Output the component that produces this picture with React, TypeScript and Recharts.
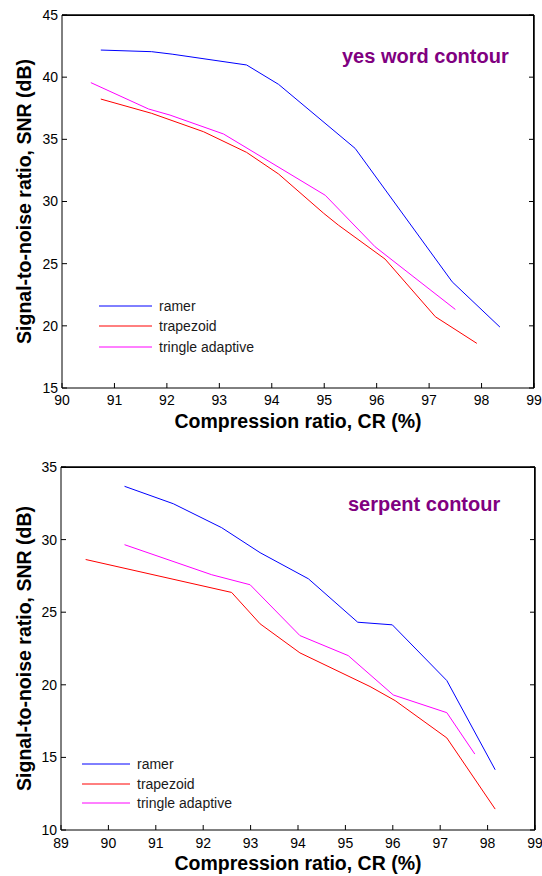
import React from 'react';
import { LineChart, Line, XAxis, YAxis, Legend, ReferenceLine } from 'recharts';

// yes word contour
const topRamerCR = [90.74, 91.71, 92.1, 93.52, 94.13, 95.59, 97.44, 98.35];
const topRamerSNR = [42.18, 42.05, 41.85, 40.98, 39.42, 34.27, 23.54, 19.9];
const topTrapCR = [90.74, 91.71, 92.7, 93.52, 94.13, 94.99, 95.27, 96.16, 97.12, 97.91];
const topTrapSNR = [38.24, 37.09, 35.61, 33.95, 32.21, 29.05, 28.1, 25.37, 20.73, 18.59];
const topTriCR = [90.55, 91.65, 92.06, 93.08, 95.02, 95.97, 97.5];
const topTriSNR = [39.56, 37.44, 36.95, 35.43, 30.5, 26.36, 21.32];

// serpent contour
const botRamerCR = [90.34, 91.37, 92.39, 93.2, 94.22, 95.26, 95.99, 97.14, 98.16];
const botRamerSNR = [33.67, 32.47, 30.82, 29.1, 27.3, 24.31, 24.13, 20.29, 14.15];
const botTrapCR = [89.52, 92.6, 93.2, 94.04, 95.52, 96.05, 97.14, 98.16];
const botTrapSNR = [28.63, 26.36, 24.2, 22.2, 19.88, 18.91, 16.34, 11.44];
const botTriCR = [90.34, 92.18, 92.99, 94.04, 95.06, 96.01, 97.14, 97.73];
const botTriSNR = [29.65, 27.58, 26.89, 23.39, 22.01, 19.3, 18.08, 15.23];

const topXTicks = [90, 91, 92, 93, 94, 95, 96, 97, 98, 99];
const topYTicks = [15, 20, 25, 30, 35, 40, 45];
const botXTicks = [89, 90, 91, 92, 93, 94, 95, 96, 97, 98, 99];
const botYTicks = [10, 15, 20, 25, 30, 35];

const seriesNames = ['ramer', 'trapezoid', 'tringle adaptive'];
const seriesColors = ['#0000ff', '#ff0000', '#ff00ff'];

const font = '"Liberation Sans", Arial, Helvetica, sans-serif';

const zip = (xs: number[], ys: number[]) => xs.map((cr, i) => ({ cr, snr: ys[i] }));

const makeLegend = (lineLen: number, rowH: number) => (props: any) => (
  <div style={{ fontFamily: font, fontSize: 14, color: '#1a1a1a' }}>
    {(props.payload || []).map((p: any) => (
      <div key={p.value} style={{ display: 'flex', alignItems: 'center', height: rowH, whiteSpace: 'nowrap' }}>
        <svg width={lineLen} height={4} style={{ display: 'block' }}>
          <line x1={0} y1={2} x2={lineLen} y2={2} stroke={p.color} strokeWidth={1} />
        </svg>
        <span style={{ marginLeft: 7 }}>{p.value}</span>
      </div>
    ))}
  </div>
);

interface PanelProps {
  title: string;
  titleLeft: number;
  titleTop: number;
  height: number;
  topSpace: number;
  rightSpace: number;
  yAxisWidth: number;
  xAxisHeight: number;
  xTickMargin: number;
  xLabelOffset: number;
  xDomain: [number, number];
  xTicks: number[];
  yDomain: [number, number];
  yTicks: number[];
  data: { cr: number; snr: number }[][];
  legendLeft: number;
  legendTop: number;
  legendLine: number;
  legendRow: number;
}

const tickStyle = { fontFamily: font, fontSize: 14, fill: '#000' };
const blank = () => '';

const Panel: React.FC<PanelProps> = (p) => (
  <div style={{ position: 'relative', width: 542, height: p.height }}>
    <LineChart width={542} height={p.height} margin={{ top: 0, right: 0, left: 0, bottom: 0 }}>
      {/* box top and right edges */}
      <ReferenceLine y={p.yDomain[1]} stroke="#000" strokeWidth={1} />
      <ReferenceLine x={p.xDomain[1]} stroke="#000" strokeWidth={1} />
      <XAxis
        dataKey="cr"
        type="number"
        domain={p.xDomain}
        ticks={p.xTicks}
        allowDataOverflow
        height={p.xAxisHeight}
        tickSize={-5}
        tickMargin={p.xTickMargin}
        stroke="#000"
        tick={tickStyle}
        interval={0}
        label={{
          value: 'Compression ratio, CR (%)',
          position: 'insideBottom',
          offset: p.xLabelOffset,
          style: { fontFamily: font, fontSize: 19.5, fontWeight: 'bold', fill: '#000' },
        }}
      />
      <XAxis
        xAxisId="top"
        orientation="top"
        type="number"
        domain={p.xDomain}
        ticks={p.xTicks}
        allowDataOverflow
        height={p.topSpace}
        tickSize={-5}
        tickFormatter={blank}
        stroke="#000"
        interval={0}
      />
      <YAxis
        type="number"
        domain={p.yDomain}
        ticks={p.yTicks}
        allowDataOverflow
        width={p.yAxisWidth}
        tickSize={-5}
        tickMargin={9}
        stroke="#000"
        tick={tickStyle}
        interval={0}
        label={{
          value: 'Signal-to-noise ratio, SNR (dB)',
          angle: -90,
          position: 'insideLeft',
          offset: 24,
          style: { fontFamily: font, fontSize: 19.5, fontWeight: 'bold', fill: '#000', textAnchor: 'middle' },
        }}
      />
      <YAxis
        yAxisId="right"
        orientation="right"
        type="number"
        domain={p.yDomain}
        ticks={p.yTicks}
        allowDataOverflow
        width={p.rightSpace}
        tickSize={-5}
        tickFormatter={blank}
        stroke="#000"
        interval={0}
      />
      <Legend
        layout="vertical"
        align="center"
        verticalAlign="middle"
        wrapperStyle={{ left: p.legendLeft, top: p.legendTop, width: 'auto', height: 'auto' }}
        content={makeLegend(p.legendLine, p.legendRow)}
      />
      {p.data.map((d, i) => (
        <Line
          key={seriesNames[i]}
          data={d}
          dataKey="snr"
          name={seriesNames[i]}
          type="linear"
          stroke={seriesColors[i]}
          strokeWidth={1}
          dot={false}
          activeDot={false}
          isAnimationActive={false}
        />
      ))}
    </LineChart>
    {/* frame over the plot area so the top and right edges of the box always show */}
    <div
      style={{
        position: 'absolute',
        left: p.yAxisWidth,
        top: p.topSpace,
        width: 542 - p.yAxisWidth - p.rightSpace,
        height: p.height - p.topSpace - p.xAxisHeight,
        borderTop: '1px solid #000',
        borderRight: '1px solid #000',
        boxSizing: 'border-box',
        pointerEvents: 'none',
      }}
    />
    <div
      style={{
        position: 'absolute',
        left: p.titleLeft,
        top: p.titleTop,
        fontFamily: font,
        fontSize: 20,
        lineHeight: '20px',
        fontWeight: 'bold',
        color: '#800080',
        whiteSpace: 'nowrap',
      }}
    >
      {p.title}
    </div>
  </div>
);

export default function App() {
  return (
    <div style={{ position: 'absolute', left: 0, top: 0, width: 542, height: 876, background: '#fff' }}>
      <Panel
        title="yes word contour"
        titleLeft={342}
        titleTop={46}
        height={440}
        topSpace={15}
        rightSpace={8}
        yAxisWidth={62}
        xAxisHeight={52}
        xTickMargin={12}
        xLabelOffset={12}
        xDomain={[90, 99]}
        xTicks={topXTicks}
        yDomain={[15, 45]}
        yTicks={topYTicks}
        data={[zip(topRamerCR, topRamerSNR), zip(topTrapCR, topTrapSNR), zip(topTriCR, topTriSNR)]}
        legendLeft={99}
        legendTop={296}
        legendLine={53}
        legendRow={20.3}
      />
      <Panel
        title="serpent contour"
        titleLeft={348}
        titleTop={54}
        height={436}
        topSpace={27}
        rightSpace={7}
        yAxisWidth={61}
        xAxisHeight={46}
        xTickMargin={13}
        xLabelOffset={6}
        xDomain={[89, 99]}
        xTicks={botXTicks}
        yDomain={[10, 35]}
        yTicks={botYTicks}
        data={[zip(botRamerCR, botRamerSNR), zip(botTrapCR, botTrapSNR), zip(botTriCR, botTriSNR)]}
        legendLeft={82}
        legendTop={314}
        legendLine={48}
        legendRow={19.7}
      />
    </div>
  );
}
